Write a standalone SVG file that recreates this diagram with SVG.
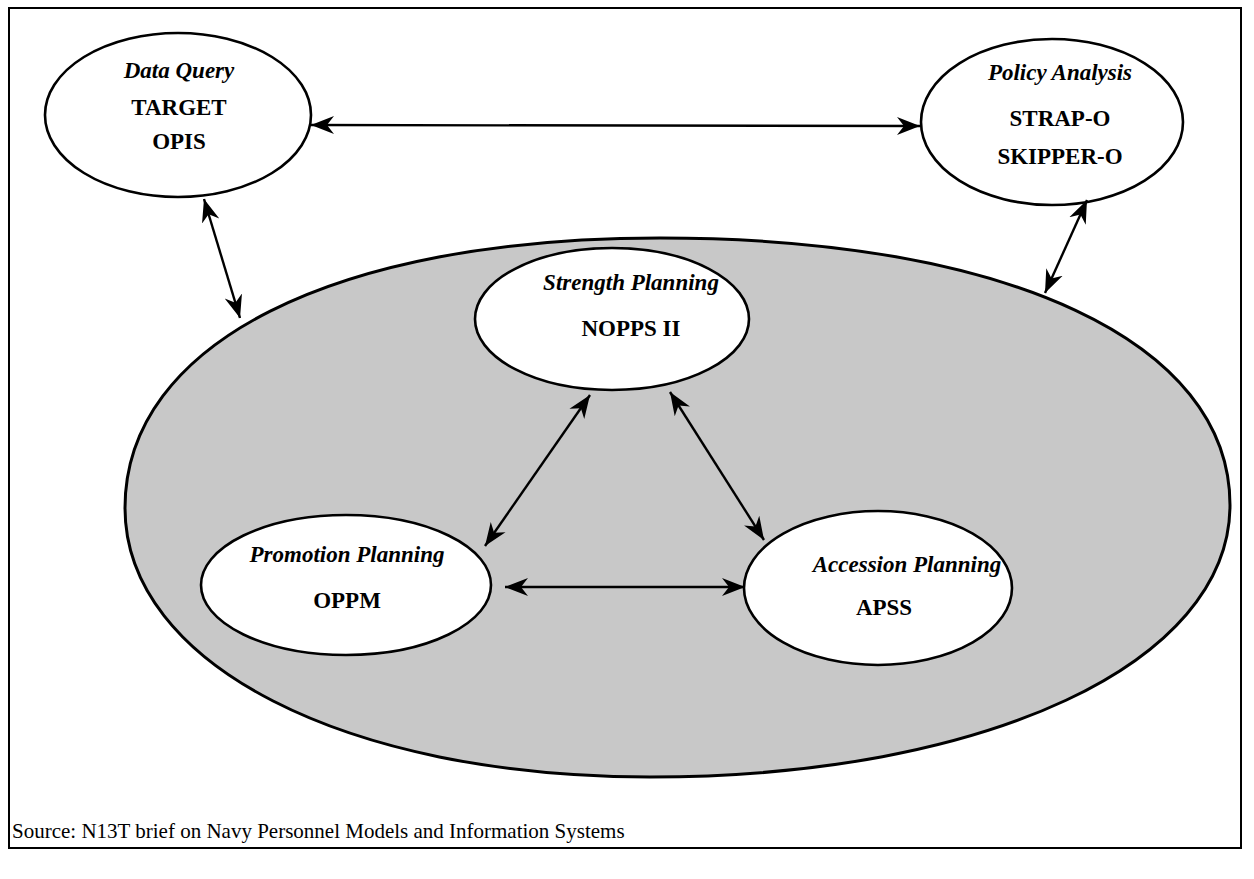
<svg xmlns="http://www.w3.org/2000/svg" width="1254" height="879" viewBox="0 0 1254 879">
<style>
.ol{fill:#fff;stroke:#000;stroke-width:2.6}
.big{fill:#c8c8c8;stroke:#000;stroke-width:3}
.it{font-family:"Liberation Serif","Times New Roman",serif;font-style:italic;font-weight:bold;font-size:23px;text-anchor:middle;fill:#000}
.bd{font-family:"Liberation Serif","Times New Roman",serif;font-weight:bold;font-size:23px;text-anchor:middle;fill:#000}
.src{font-family:"Liberation Serif","Times New Roman",serif;font-size:21px;fill:#000}
.cn{fill:none;stroke:#000;stroke-width:2.4;marker-start:url(#ah);marker-end:url(#ah)}
</style>
<defs>
<marker id="ah" markerUnits="userSpaceOnUse" markerWidth="26" markerHeight="22" refX="23" refY="11" orient="auto-start-reverse" viewBox="0 0 26 22">
<path d="M0,2 L23,11 L0,20 L7,11 Z" fill="#000"/>
</marker>
</defs>
<rect x="0" y="0" width="1254" height="879" fill="#fff"/>
<rect id="frame" x="9" y="8" width="1232" height="840" fill="none" stroke="#000" stroke-width="2"/>
<g id="group-ellipse">
<path class="big" d="M125,508 C125,343 334,238 660,238 C1008,238 1230,342 1230,505 C1230,663 986,777 650,777 C345,777 125,664 125,508 Z"/>
</g>
<g id="data-query">
<ellipse class="ol" cx="178" cy="115" rx="133" ry="82"/>
<text class="it" x="179" y="78">Data Query</text>
<text class="bd" x="179" y="115">TARGET</text>
<text class="bd" x="179" y="149">OPIS</text>
</g>
<g id="policy-analysis">
<ellipse class="ol" cx="1052" cy="122" rx="131" ry="83"/>
<text class="it" x="1060" y="80">Policy Analysis</text>
<text class="bd" x="1060" y="126">STRAP-O</text>
<text class="bd" x="1060" y="164">SKIPPER-O</text>
</g>
<g id="strength-planning">
<ellipse class="ol" cx="612" cy="319" rx="137" ry="71"/>
<text class="it" x="631" y="290">Strength Planning</text>
<text class="bd" x="631" y="336">NOPPS II</text>
</g>
<g id="promotion-planning">
<ellipse class="ol" cx="346" cy="585" rx="145" ry="70"/>
<text class="it" x="347" y="562">Promotion Planning</text>
<text class="bd" x="347" y="608">OPPM</text>
</g>
<g id="accession-planning">
<ellipse class="ol" cx="878" cy="588" rx="134" ry="77"/>
<text class="it" x="907" y="572">Accession Planning</text>
<text class="bd" x="884" y="615">APSS</text>
</g>
<g id="connectors">
<line class="cn" x1="311" y1="125" x2="920" y2="126"/>
<line class="cn" x1="204" y1="199" x2="240" y2="318"/>
<line class="cn" x1="1087" y1="200" x2="1045" y2="293"/>
<line class="cn" x1="590" y1="395" x2="485" y2="546"/>
<line class="cn" x1="670" y1="392" x2="764" y2="540"/>
<line class="cn" x1="505" y1="587" x2="745" y2="587"/>
</g>
<text class="src" x="12" y="838">Source:  N13T brief on Navy Personnel Models and Information Systems</text>
</svg>
